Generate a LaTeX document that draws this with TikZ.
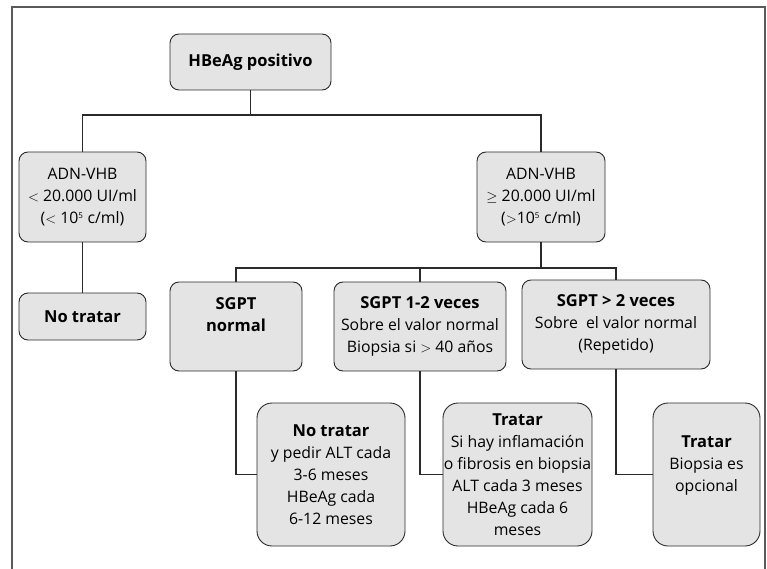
\documentclass[tikz,border=0pt]{standalone}
\usepackage{fontspec}
\setmainfont{Open Sans}
\definecolor{boxfill}{HTML}{E4E4E4}
\definecolor{boxline}{HTML}{2A2A2A}
\definecolor{framegray}{HTML}{5A5A5A}
\tikzset{
  box/.style={draw=boxline, fill=boxfill, line width=0.9pt, rounded corners=9pt,
    inner sep=0pt, align=center, font=\fontsize{15.8}{22}\selectfont},
  bigbox/.style={box, rounded corners=15pt},
  conn/.style={draw=boxline, line width=1.1pt},
}
\newcommand{\bb}[1]{{\fontsize{16.5}{22}\selectfont\bfseries #1}}
\begin{document}
\begin{tikzpicture}[x=1pt,y=-1pt]
\useasboundingbox (0,0) rectangle (767,569);
\draw[framegray, line width=1.1pt] (12,569) -- (12,7) -- (765,7) -- (765,569);

\node[box, minimum width=161pt, minimum height=56pt] (top) at (250.5,62) {\bb{HBeAg positivo}};
\node[box, minimum width=127pt, minimum height=90pt] (adnL) at (82.5,197) {ADN-VHB\\$<$ 20.000 UI/ml\\($<$ 10\textsuperscript{\footnotesize 5} c/ml)};
\node[box, minimum width=128pt, minimum height=90pt] (adnR) at (541,197) {ADN-VHB\\$\geq$ 20.000 UI/ml\\($>$10\textsuperscript{\footnotesize 5} c/ml)};
\node[box, minimum width=127pt, minimum height=47pt] (noL) at (82.5,316.5) {\bb{No tratar}};
\node[box, minimum width=132pt, minimum height=89pt] (sg1) at (236,326.5) {\raisebox{7pt}[0pt][0pt]{\begin{tabular}{@{}c@{}}\bb{SGPT}\\\bb{normal}\end{tabular}}};
\node[box, minimum width=172pt, minimum height=89pt] (sg2) at (420,326.5) {\bb{SGPT 1-2 veces}\\Sobre el valor normal\\Biopsia si $>$ 40 años};
\node[box, minimum width=188pt, minimum height=89pt] (sg3) at (616,324.5) {\bb{SGPT > 2 veces}\\Sobre\ \ el valor normal\\(Repetido)};
\node[bigbox, minimum width=148pt, minimum height=143pt] (r1) at (331,474.5) {\bb{No tratar}\\y pedir ALT cada\\3-6 meses\\HBeAg cada\\6-12 meses};
\node[bigbox, minimum width=149pt, minimum height=143pt] (r2) at (517.5,474.5) {\bb{Tratar}\\Si hay inflamación\\o fibrosis en biopsia\\ALT cada 3 meses\\HBeAg cada 6\\meses};
\node[bigbox, minimum width=107pt, minimum height=143pt] (r3) at (706.5,474.5) {\raisebox{5.5pt}[0pt][0pt]{\begin{tabular}{@{}c@{}}\bb{Tratar}\\Biopsia es\\opcional\end{tabular}}};

% connectors
\coordinate (j1) at (250.5,115);
\draw[conn] (top.south) -- (j1);
\draw[conn] (adnL.north) |- (j1) -| (adnR.north);
\draw[conn] (adnL.south) -- (noL.north);
\coordinate (j2) at (541,268);
\draw[conn] (adnR.south) -- (j2);
\draw[conn] (sg1.north) |- (j2) -| (sg3.north);
\draw[conn] (j2) -| (sg2.north);
\draw[conn] (sg1.south) |- (r1.west);
\draw[conn] (sg2.south) |- (r2.west);
\draw[conn] (sg3.south) |- (r3.west);
\end{tikzpicture}
\end{document}
